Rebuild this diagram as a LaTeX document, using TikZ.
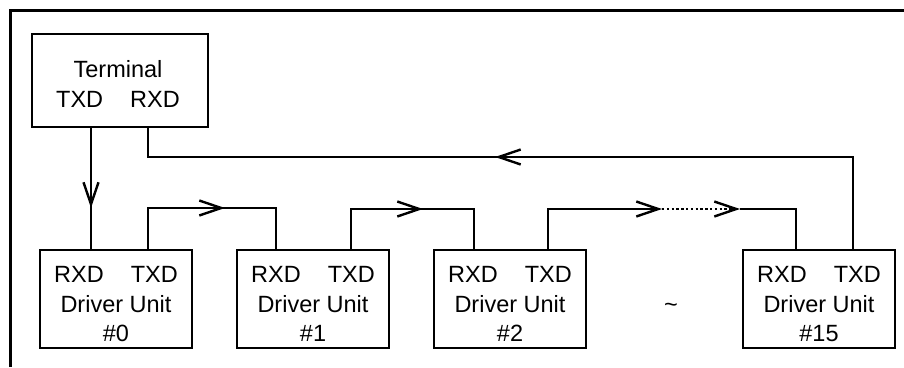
\documentclass[tikz,border=0pt]{standalone}
\usepackage{fontspec}
\setmainfont{Liberation Sans}
\usetikzlibrary{arrows.meta}
\begin{document}
\begin{tikzpicture}[x=1pt,y=-1pt,
  box/.style={draw,line width=2.4pt,inner sep=0pt,minimum width=152pt,minimum height=98pt},
  lbl/.style={anchor=base,inner sep=0pt,font=\fontsize{23.5}{28}\selectfont},
  wire/.style={line width=2.4pt,line join=miter},
  tip/.style={-{Straight Barb[length=22pt,width=15pt]}},
  arr/.style={line width=2.4pt,tip},
  dotwire/.style={line width=2.4pt,dash pattern=on 2.4pt off 2.4pt},
]
\useasboundingbox (0,0) rectangle (904,367);
% frame
\draw[line width=3pt] (10,367) -- (10,10) -- (904,10);
% boxes
\node[box,minimum width=176pt,minimum height=93pt] (term) at (120,80.5) {};
\node[box] (d0) at (116,299) {};
\node[box] (d1) at (313,299) {};
\node[box] (d2) at (510,299) {};
\node[box] (d15) at (819,299) {};
% labels
\node[lbl] (termA) at (118,77) {Terminal};
\node[lbl] (termB) at (118,107) {TXD\hspace{27pt}RXD};
\foreach \n/\cx/\num in {d0/116/0, d1/313/1, d2/510/2, d15/819/15}{
  \node[lbl] (\n a) at (\cx,282) {RXD\hspace{27pt}TXD};
  \node[lbl] (\n b) at (\cx,312) {Driver Unit};
  \node[lbl] (\n c) at (\cx,341) {\#\num};
}
\node[lbl] (tilde) at (671,312) {\textasciitilde};
% connection points
\coordinate (tTX) at (91,127);
\coordinate (tRX) at (148,127);
\coordinate (d0R) at (91,250);
\coordinate (d0T) at (148,250);
\coordinate (d1R) at (276,250);
\coordinate (d1T) at (351,250);
\coordinate (d2R) at (474,250);
\coordinate (d2T) at (548,250);
\coordinate (d15R) at (796,250);
\coordinate (d15T) at (853,250);
\coordinate (k1) at (853,157);
\coordinate (k2) at (148,157);
\coordinate (aR) at (495,157);
\coordinate (a0) at (91,208);
\coordinate (u0) at (148,208);
\coordinate (v0) at (276,208);
\coordinate (a1) at (225,208);
\coordinate (u1) at (351,209);
\coordinate (v1) at (474,209);
\coordinate (a2) at (423,209);
\coordinate (u2) at (548,209);
\coordinate (m1) at (662,209);
\coordinate (m2) at (740,209);
\coordinate (v2) at (796,209);
% connectors
\draw[wire] (tTX) -- (d0R);
\draw[arr] (tTX) -- (a0);
\draw[wire] (d15T) -- (k1) -- (k2) -- (tRX);
\draw[arr] (k1) -- (aR);
\draw[wire] (d0T) -- (u0) -- (v0) -- (d1R);
\draw[arr] (u0) -- (a1);
\draw[wire] (d1T) -- (u1) -- (v1) -- (d2R);
\draw[arr] (u1) -- (a2);
\draw[arr] (d2T) -- (u2) -- (m1);
\draw[dotwire,tip] (m1) -- (m2);
\draw[wire] (m2) -- (v2) -- (d15R);
\end{tikzpicture}
\end{document}
